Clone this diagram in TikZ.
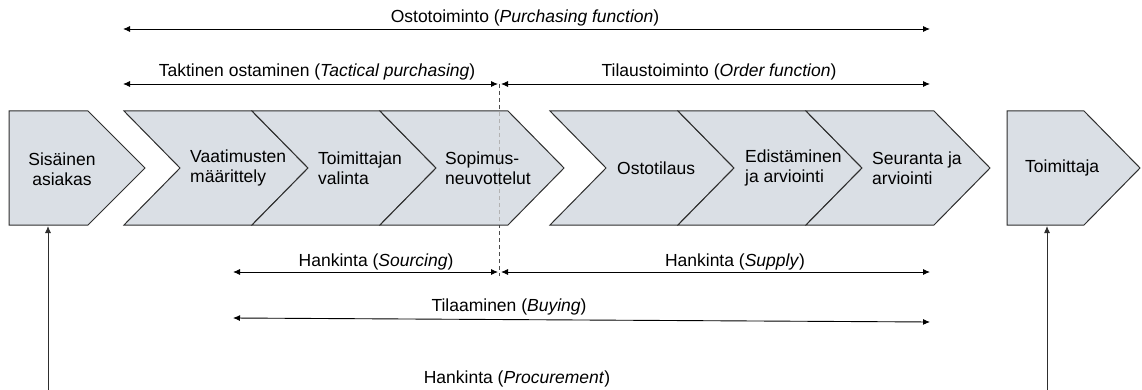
\documentclass[tikz,border=0pt]{standalone}
\usepackage{fontspec}
\setmainfont{Liberation Sans}
\usetikzlibrary{arrows.meta}
\definecolor{shapefill}{HTML}{DADFE5}
\definecolor{edge}{HTML}{2E2E2E}
\begin{document}
\begin{tikzpicture}[x=1pt,y=-1pt,
  font=\fontsize{17.5}{20.5}\selectfont,
  chev/.style={fill=shapefill, draw=edge, line width=1pt, line join=miter},
  lbl/.style={inner sep=0pt, align=left, anchor=west},
  plain/.style={inner sep=0pt},
  dim/.style={draw=black, line width=0.9pt, {Latex[length=7pt,width=6pt]}-{Latex[length=7pt,width=6pt]}},
  uparr/.style={draw=edge, line width=0.9pt, -{Latex[length=7pt,width=6pt]}},
  divider/.style={dash pattern=on 4pt off 3pt, line width=0.8pt}]
\useasboundingbox (0,0) rectangle (1142,390);

% dashed divider (behind shapes)
\coordinate (dtop) at (499,84);
\coordinate (dbot) at (499,276);
\draw[divider, draw=black!70] (dtop) -- (dbot);

% end shapes
\draw[chev] (9,111) -- (88,111) -- (145,168) -- (88,225) -- (9,225) -- cycle;
\draw[chev] (1007,111) -- (1084,111) -- (1140,168) -- (1084,225) -- (1007,225) -- cycle;

% chevrons
\foreach \x in {124,252,380,550,678,806}
  \draw[chev] (\x,111) -- ++(128,0) -- ++(56,57) -- ++(-56,57) -- ++(-128,0) -- ++(56,-57) -- cycle;

% divider seen through shapes
\coordinate (dsa) at (499,112);
\coordinate (dsb) at (499,224);
\draw[divider, draw=black!30] (dsa) -- (dsb);

% shape texts
\node[plain, align=center] (sis) at (62,169) {Sisäinen\\asiakas};
\node[lbl] (vaa) at (190,168) {Vaatimusten\\määrittely};
\node[lbl] (toi) at (318,168) {Toimittajan\\valinta};
\node[lbl] (sop) at (445,168) {Sopimus-\\neuvottelut};
\node[lbl] (ost) at (617,168) {Ostotilaus};
\node[lbl] (edi) at (745,168) {Edistäminen\\ja arviointi};
\node[lbl] (seu) at (872,168) {Seuranta ja\\arviointi};
\node[lbl] (tmj) at (1025,168) {Toimittaja};

% top spans
\coordinate (p1) at (123,29); \coordinate (p2) at (930,29);
\draw[dim] (p1) -- (p2);
\node[plain] (lp) at (525,18) {Ostotoiminto (\textit{Purchasing function})};

\coordinate (t1) at (123,84); \coordinate (t2) at (498,84);
\draw[dim] (t1) -- (t2);
\node[plain] (lt) at (317,72) {Taktinen ostaminen (\textit{Tactical purchasing})};

\coordinate (o1) at (501,84); \coordinate (o2) at (930,84);
\draw[dim] (o1) -- (o2);
\node[plain] (lo) at (719,72) {Tilaustoiminto (\textit{Order function})};

% bottom spans
\coordinate (s1) at (233,272); \coordinate (s2) at (498,272);
\draw[dim] (s1) -- (s2);
\node[plain] (ls) at (376,262) {Hankinta (\textit{Sourcing})};

\coordinate (u1) at (501,272); \coordinate (u2) at (930,272);
\draw[dim] (u1) -- (u2);
\node[plain] (lu) at (735,262) {Hankinta (\textit{Supply})};

\coordinate (b1) at (233,318); \coordinate (b2) at (930,322);
\draw[dim] (b1) -- (b2);
\node[plain] (lb) at (509,307) {Tilaaminen (\textit{Buying})};

\node[plain] (lpr) at (517,379) {Hankinta (\textit{Procurement})};

% vertical arrows
\coordinate (v1) at (48,392); \coordinate (v1e) at (48,226);
\coordinate (v2) at (1047,392); \coordinate (v2e) at (1047,226);
\draw[uparr] (v1) -- (v1e);
\draw[uparr] (v2) -- (v2e);
\end{tikzpicture}
\end{document}
